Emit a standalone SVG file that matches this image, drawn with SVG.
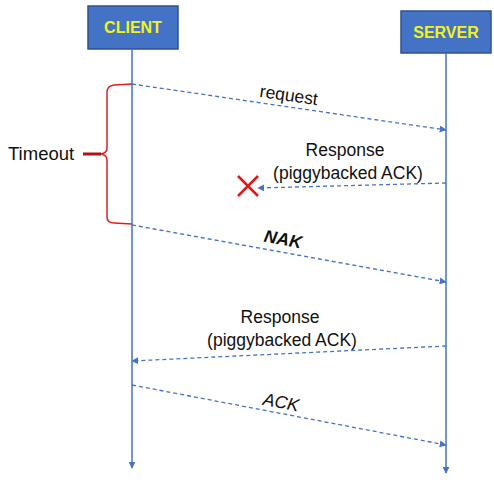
<svg xmlns="http://www.w3.org/2000/svg" width="494" height="482" viewBox="0 0 494 482">
<defs>
<marker id="ah" viewBox="0 0 10 10" refX="9" refY="5" markerWidth="7" markerHeight="7" markerUnits="userSpaceOnUse" orient="auto">
<path d="M0,0 L10,5 L0,10 z" fill="#4472C4"/>
</marker>
<style>
.box{fill:#4472C4;stroke:#2F528F;stroke-width:1.5}
.hdr{font-family:"Liberation Sans",Arial,sans-serif;font-weight:bold;font-size:16px;fill:#F2F21E;text-anchor:middle}
.life{stroke:#4472C4;stroke-width:1.5;fill:none}
.msg{stroke:#4472C4;stroke-width:1.3;stroke-dasharray:4 3;fill:none}
.lbl{font-family:"Liberation Sans",Arial,sans-serif;font-size:17.5px;fill:#111;text-anchor:middle}
</style>
</defs>
<rect width="494" height="482" fill="#fff"/>
<g id="client">
<rect class="box" x="88" y="6" width="90" height="43"/>
<text class="hdr" x="133" y="33">CLIENT</text>
</g>
<g id="server">
<rect class="box" x="401" y="11" width="90" height="42"/>
<text class="hdr" x="446" y="38">SERVER</text>
</g>
<g id="connectors">
<line class="life" x1="132" y1="49" x2="132" y2="468" marker-end="url(#ah)"/>
<line class="life" x1="446" y1="53" x2="446" y2="473" marker-end="url(#ah)"/>
<line class="msg" x1="132" y1="84" x2="446" y2="130" marker-end="url(#ah)"/>
<line class="msg" x1="446" y1="183" x2="258" y2="188" marker-end="url(#ah)"/>
<line class="msg" x1="132" y1="225" x2="446" y2="282" marker-end="url(#ah)"/>
<line class="msg" x1="446" y1="346" x2="132" y2="361" marker-end="url(#ah)"/>
<line class="msg" x1="132" y1="385" x2="446" y2="445" marker-end="url(#ah)"/>
</g>
<g id="timeout">
<path d="M132,84 L114,85 Q107,86 107,92 L107,148 Q107,153 101,154 Q107,155 107,160 L107,217 Q107,223 114,223 L132,224" fill="none" stroke="#E02020" stroke-width="1.5"/>
<line x1="83" y1="154" x2="101" y2="154" stroke="#B01010" stroke-width="3"/>
<text class="lbl" x="8" y="160" style="text-anchor:start;font-size:18.5px">Timeout</text>
</g>
<g id="lost">
<path d="M238,176 L258,196 M258,176 L238,196" stroke="#E01818" stroke-width="2.5" fill="none"/>
</g>
<g id="labels">
<text class="lbl" transform="translate(288,101) rotate(8.3)" x="0" y="0">request</text>
<text class="lbl" x="345" y="156">Response</text>
<text class="lbl" x="348" y="179">(piggybacked ACK)</text>
<text class="lbl" transform="translate(282,245) rotate(10.3)" x="0" y="0" style="font-weight:bold;font-style:italic">NAK</text>
<text class="lbl" x="280" y="323">Response</text>
<text class="lbl" x="282" y="346">(piggybacked ACK)</text>
<text class="lbl" transform="translate(280,408) rotate(10.8)" x="0" y="0" style="font-style:italic">ACK</text>
</g>
</svg>
